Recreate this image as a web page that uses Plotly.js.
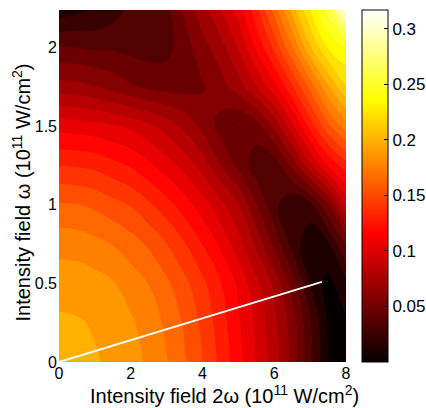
<!DOCTYPE html>
<html>
<head>
<meta charset="utf-8">
<script src="https://cdn.plot.ly/plotly-3.0.1.min.js"></script>
<style>html,body{margin:0;padding:0;background:#fff;}#chart{width:426px;height:408px;}</style>
</head>
<body>
<div id="chart"></div>
<script>
// Intensity field 2ω (x, 1e11 W/cm2) and field ω (y, 1e11 W/cm2)
const xVals = [0,0.5,1,1.5,2,2.5,3,3.5,4,4.5,5,5.5,6,6.5,7,7.5,8];
const yVals = [0,0.25,0.5,0.75,1,1.25,1.5,1.75,2,2.25];

// values, one row per y value
const row000 = [.200,.200,.198,.195,.190,.183,.174,.163,.150,.135,.119,.102,.085,.063,.035,.008,.004];
const row025 = [.199,.198,.196,.193,.187,.180,.171,.160,.147,.132,.116,.100,.082,.062,.033,.007,.006];
const row050 = [.192,.192,.190,.186,.180,.173,.164,.153,.141,.127,.112,.094,.076,.050,.020,.004,.018];
const row075 = [.181,.180,.177,.173,.167,.160,.150,.139,.126,.112,.096,.076,.052,.028,.011,.018,.045];
const row100 = [.163,.162,.159,.154,.149,.140,.131,.120,.108,.095,.080,.056,.035,.022,.028,.055,.093];
const row125 = [.138,.137,.135,.130,.125,.117,.108,.098,.086,.068,.052,.037,.036,.058,.088,.115,.133];
const row150 = [.110,.109,.107,.104,.100,.094,.086,.076,.064,.051,.043,.050,.070,.099,.130,.158,.180];
const row175 = [.072,.071,.068,.063,.057,.053,.051,.051,.054,.062,.073,.090,.110,.136,.165,.195,.220];
const row200 = [.045,.044,.042,.042,.040,.038,.040,.050,.062,.074,.092,.116,.141,.172,.207,.233,.243];
const row225 = [.012,.016,.019,.026,.034,.036,.041,.058,.075,.090,.108,.135,.167,.202,.233,.262,.317];

// white line
const lineX = [0, 7.33];
const lineY = [0, 0.51];

// colorbar
const cbTicks = [0.05,0.1,0.15,0.2,0.25,0.3];
const cbLabels = ['0.05','0.1','0.15','0.2','0.25','0.3'];
const zMin = 0, zMax = 0.317;

const hot = [[0,'rgb(6,0,0)'],[0.365,'rgb(255,0,0)'],[0.746,'rgb(255,255,0)'],[1,'rgb(255,255,255)']];
const zGrid = [row000,row025,row050,row075,row100,row125,row150,row175,row200,row225];

const fam = 'Liberation Sans, Arial, sans-serif';
const font = {family:fam, size:16, color:'#000'};

const traces = [
  {type:'contour', x:xVals, y:yVals, z:zGrid, colorscale:hot, zmin:zMin, zmax:zMax,
   autocontour:false, contours:{start:0.0082, end:0.315, size:0.0118, coloring:'fill'},
   line:{width:0, smoothing:1.3}, showscale:false, hoverinfo:'skip'},
  {type:'scatter', mode:'lines', x:lineX, y:lineY, line:{color:'#fff', width:2}, showlegend:false},
  {type:'scatter', mode:'markers', x:[0,0], y:[0,0], showlegend:false, hoverinfo:'skip',
   marker:{size:1, opacity:0, color:[zMin,zMax], cmin:zMin, cmax:zMax, colorscale:hot, showscale:true,
     colorbar:{x:1.0569, xanchor:'left', xpad:0, ypad:0, y:0.5, yanchor:'middle', len:1, lenmode:'fraction',
       thickness:26, thicknessmode:'pixels', outlinewidth:1, outlinecolor:'#000',
       ticks:'inside', ticklen:4, tickcolor:'#000', tickvals:cbTicks, ticktext:cbLabels, tickfont:{family:fam, size:17, color:'#000'}}}}
];

const layout = {
  width:426, height:408, margin:{l:59, r:80, t:10, b:46, autoexpand:false},
  paper_bgcolor:'#fff', plot_bgcolor:'#fff', font:font, showlegend:false,
  xaxis:{range:[0,8], tickvals:[0,2,4,6,8], ticks:'', showgrid:false, zeroline:false, showline:false, tickfont:font, ticklabelstandoff:0},
  yaxis:{range:[0,2.24], tickvals:[0,0.5,1,1.5,2], ticktext:['0','0.5','1','1.5','2'], ticks:'', showgrid:false, zeroline:false, showline:false, tickfont:font, ticklabelstandoff:1},
  annotations:[
    {text:'Intensity field 2ω (10<sup>11</sup> W/cm<sup>2</sup>)', xref:'paper', yref:'paper', x:0.575, y:-0.091,
     xanchor:'center', yanchor:'middle', showarrow:false, font:{family:fam, size:20, color:'#000'}},
    {text:'Intensity field ω (10<sup>11</sup> W/cm<sup>2</sup>)', xref:'paper', yref:'paper', x:-0.13, y:0.4806,
     xanchor:'center', yanchor:'middle', textangle:-90, showarrow:false, font:{family:fam, size:20, color:'#000'}}
  ]
};

Plotly.newPlot('chart', traces, layout, {displayModeBar:false, staticPlot:true});
</script>
</body>
</html>
